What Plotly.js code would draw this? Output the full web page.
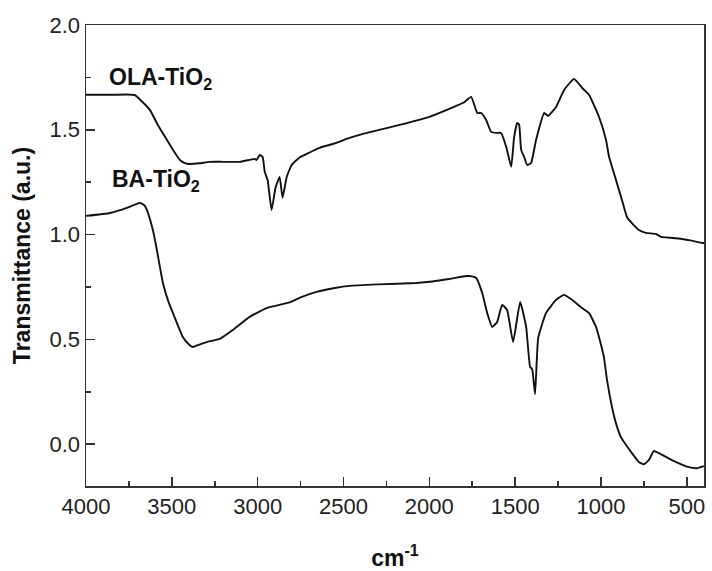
<!DOCTYPE html>
<html>
<head>
<meta charset="utf-8">
<script src="https://cdn.plot.ly/plotly-3.0.1.min.js"></script>
<style>html,body{margin:0;padding:0;background:#fff;}#chart{width:712px;height:571px;}</style>
</head>
<body>
<div id="chart"></div>
<script>
// OLA-TiO2 spectrum (wavenumber cm^-1, transmittance a.u.)
const olaX = [4000,3850,3760,3715,3680,3628,3580,3529,3490,3453,3420,3395,3340,3279,3200,3105,3017,3006,2988,2971,2959,2942,2919,2895,2872,2855,2831,2802,2756,2715,2640,2564,2465,2407,2300,2174,2000,1884,1800,1756,1721,1698,1669,1640,1611,1582,1552,1523,1506,1488,1477,1465,1448,1430,1407,1378,1331,1308,1262,1215,1157,1110,1070,1012,971,953,913,878,849,820,779,738,680,651,600,529,480,407,400];
const olaY = [1.667,1.667,1.668,1.665,1.64,1.595,1.52,1.452,1.40,1.356,1.340,1.337,1.340,1.347,1.347,1.347,1.361,1.356,1.38,1.37,1.30,1.26,1.117,1.227,1.275,1.175,1.275,1.332,1.368,1.385,1.414,1.432,1.461,1.476,1.498,1.523,1.562,1.600,1.630,1.657,1.580,1.58,1.547,1.49,1.485,1.485,1.418,1.323,1.466,1.533,1.525,1.404,1.371,1.332,1.342,1.452,1.58,1.566,1.609,1.690,1.743,1.70,1.667,1.562,1.452,1.371,1.261,1.165,1.084,1.055,1.022,1.008,1.003,0.989,0.985,0.979,0.972,0.96,0.96];
// BA-TiO2 spectrum
const baX = [4000,3860,3762,3700,3686,3660,3645,3610,3587,3552,3520,3494,3436,3400,3378,3340,3297,3221,3145,3047,2948,2814,2750,2657,2550,2465,2300,2076,1983,1884,1785,1767,1727,1692,1663,1634,1605,1576,1547,1512,1471,1436,1413,1401,1384,1366,1320,1262,1215,1175,1110,1070,1029,1012,983,965,936,913,884,866,820,780,750,721,692,663,587,488,442,401];
const baY = [1.089,1.103,1.127,1.148,1.151,1.14,1.117,1.02,0.926,0.769,0.68,0.626,0.511,0.475,0.463,0.475,0.487,0.502,0.544,0.607,0.649,0.676,0.70,0.726,0.745,0.755,0.762,0.769,0.776,0.788,0.802,0.802,0.793,0.721,0.626,0.559,0.583,0.664,0.64,0.487,0.678,0.559,0.368,0.358,0.239,0.506,0.626,0.688,0.712,0.692,0.649,0.626,0.559,0.511,0.415,0.306,0.177,0.100,0.033,0.01,-0.043,-0.085,-0.096,-0.076,-0.033,-0.043,-0.076,-0.11,-0.115,-0.105];

const seriesNames = ["OLA-TiO<sub>2</sub>", "BA-TiO<sub>2</sub>"];
const labelX = [3878, 3860];
const labelY = [1.743, 1.256];
const xTitle = "cm<sup>-1</sup>";
const yTitle = "Transmittance (a.u.)";
const xRange = [4000, 400];
const yRange = [-0.2, 2.0];

const FONT = "Liberation Sans, Arial, sans-serif";
const lineStyle = {color: "#111", width: 1.9, shape: "spline", smoothing: 0.4};

const traces = [
  {x: olaX, y: olaY, mode: "lines", line: lineStyle, name: "OLA-TiO2", hoverinfo: "skip", xaxis: "x", yaxis: "y"},
  {x: baX, y: baY, mode: "lines", line: lineStyle, name: "BA-TiO2", hoverinfo: "skip", xaxis: "x2", yaxis: "y2"}
];

const tickCol = "#333";
const layout = {
  width: 712, height: 571,
  margin: {l: 86, r: 8, t: 25, b: 85},
  paper_bgcolor: "#fff", plot_bgcolor: "rgba(0,0,0,0)",
  showlegend: false,
  font: {family: FONT, color: "#222", size: 22},
  xaxis: {
    range: xRange, dtick: 500, tick0: 0,
    ticks: "inside", ticklen: 9, tickwidth: 1.6, tickcolor: tickCol,
    showline: true, linecolor: tickCol, linewidth: 1.5, mirror: true,
    showgrid: false, zeroline: false,
    tickfont: {family: FONT, size: 22, color: "#222"},
    title: {text: xTitle, font: {family: FONT, size: 23, color: "#111", weight: "bold"}},
    automargin: false
  },
  yaxis: {
    range: yRange, dtick: 0.5, tick0: 0,
    ticks: "inside", ticklen: 9, tickwidth: 1.6, tickcolor: tickCol,
    showline: true, linecolor: tickCol, linewidth: 1.5, mirror: true,
    showgrid: false, zeroline: false,
    tickformat: ".1f",
    tickfont: {family: FONT, size: 22, color: "#222"},
    title: {text: yTitle, font: {family: FONT, size: 23, color: "#111", weight: "bold"}},
    automargin: false
  },
  // overlay axes carrying the short (minor) ticks
  xaxis2: {
    overlaying: "x", side: "bottom", range: xRange, dtick: 250, tick0: 0,
    ticks: "inside", ticklen: 5, tickwidth: 1.6, tickcolor: tickCol,
    showticklabels: false, showline: false, showgrid: false, zeroline: false,
    automargin: false
  },
  yaxis2: {
    overlaying: "y", side: "left", range: yRange, dtick: 0.25, tick0: 0,
    ticks: "inside", ticklen: 5, tickwidth: 1.6, tickcolor: tickCol,
    showticklabels: false, showline: false, showgrid: false, zeroline: false,
    automargin: false
  },
  annotations: seriesNames.map((t, i) => ({
    x: labelX[i], y: labelY[i], xref: "x", yref: "y",
    text: t, showarrow: false, xanchor: "left", yanchor: "middle",
    font: {family: FONT, size: 23, color: "#111", weight: "bold"}
  }))
};

Plotly.newPlot("chart", traces, layout, {staticPlot: true, displayModeBar: false});
</script>
</body>
</html>
